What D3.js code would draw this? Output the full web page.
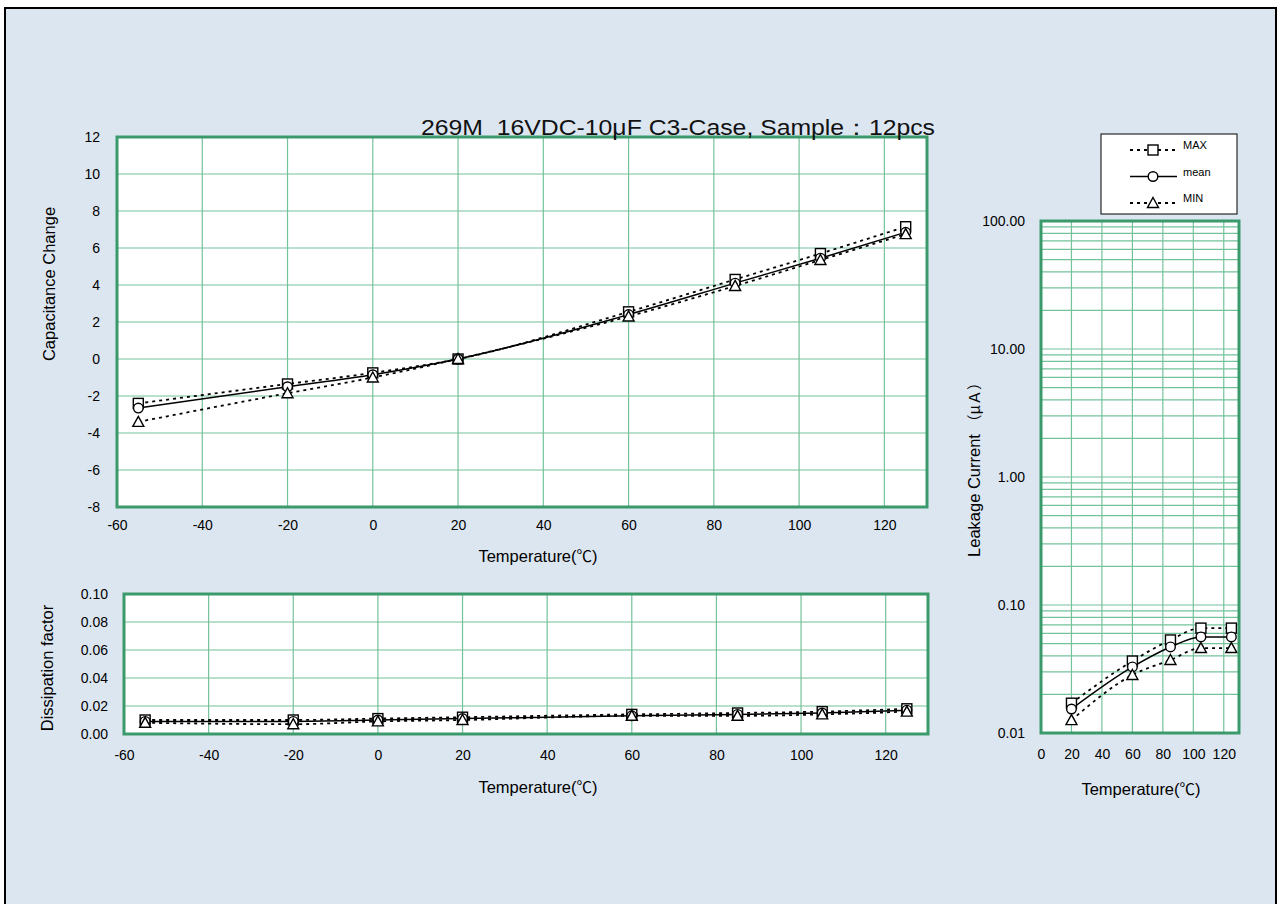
<!DOCTYPE html>
<html><head><meta charset="utf-8">
<script src="https://cdn.jsdelivr.net/npm/d3@7"></script>
<style>html,body{margin:0;padding:0;background:#fff;}svg{display:block;}</style>
</head><body>
<svg id="c" width="1279" height="904"></svg>
<script>
// ---- data ----
const tempsCap = [-55, -20, 0, 20, 60, 85, 105, 125];
const capMax  = [-2.4, -1.35, -0.75, 0.0, 2.55, 4.3, 5.7, 7.15];
const capMean = [-2.65, -1.5, -0.85, 0.0, 2.4, 4.1, 5.45, 6.85];
const capMin  = [-3.4, -1.85, -1.0, 0.0, 2.3, 3.95, 5.35, 6.75];

const dfMax  = [0.010, 0.010, 0.011, 0.012, 0.014, 0.015, 0.016, 0.018];
const dfMean = [0.009, 0.009, 0.010, 0.011, 0.013, 0.014, 0.015, 0.017];
const dfMin  = [0.008, 0.007, 0.009, 0.010, 0.013, 0.013, 0.014, 0.016];

const tempsLc = [20, 60, 85, 105, 125];
const lcMax  = [0.0171, 0.0365, 0.0533, 0.066, 0.066];
const lcMean = [0.0154, 0.0328, 0.047, 0.0563, 0.0563];
const lcMin  = [0.0126, 0.0284, 0.0372, 0.0461, 0.0461];

const capXTicks = [-60, -40, -20, 0, 20, 40, 60, 80, 100, 120];
const capYTicks = [-8, -6, -4, -2, 0, 2, 4, 6, 8, 10, 12];
const dfYTicks = [0, 0.02, 0.04, 0.06, 0.08, 0.10];
const lcXTicks = [0, 20, 40, 60, 80, 100, 120];
const lcYTicks = [0.01, 0.1, 1, 10, 100];
const legendLabels = ["MAX", "mean", "MIN"];
const titleText = "269M  16VDC-10\u03bcF C3-Case, Sample\uff1a12pcs";

// ---- styles ----
const FONT = "'Liberation Sans', Arial, sans-serif";
const CJK = "'Noto Sans CJK JP', sans-serif";
const GRID = "#74c29b";
const BORDER = "#3a9a6b";
const TICK_FS = 14;
const TITLE_FS = 16.5;

const svg = d3.select("#c");
svg.append("rect").attr("x", 0).attr("y", 0).attr("width", 1279).attr("height", 904).attr("fill", "#fff");
svg.append("rect").attr("x", 5).attr("y", 8).attr("width", 1271).attr("height", 910)
  .attr("fill", "#dce6f1").attr("stroke", "#000").attr("stroke-width", 2);

const intFmt = d => String(d);

function marker(g, type, x, y) {
  if (type === 0) {
    g.append("rect").attr("x", x - 5).attr("y", y - 5).attr("width", 10).attr("height", 10)
      .attr("fill", "#fff").attr("stroke", "#000").attr("stroke-width", 1.4);
  } else if (type === 1) {
    g.append("circle").attr("cx", x).attr("cy", y).attr("r", 4.8)
      .attr("fill", "#fff").attr("stroke", "#000").attr("stroke-width", 1.4);
  } else {
    g.append("path").attr("d", `M${x},${y - 5.5}L${x + 5.5},${y + 4.5}L${x - 5.5},${y + 4.5}Z`)
      .attr("fill", "#fff").attr("stroke", "#000").attr("stroke-width", 1.4);
  }
}

function drawSeries(g, xs, series, x, y) {
  const dashes = ["3,4", null, "3,4"];
  series.forEach((vals, i) => {
    const line = d3.line().curve(d3.curveMonotoneX).x((d, j) => x(xs[j])).y(d => y(d));
    const p = g.append("path").attr("d", line(vals)).attr("fill", "none")
      .attr("stroke", "#000").attr("stroke-width", i === 1 ? 1.5 : 1.8);
    if (dashes[i]) p.attr("stroke-dasharray", dashes[i]);
  });
  series.forEach((vals, i) => {
    vals.forEach((v, j) => marker(g, i, x(xs[j]), y(v)));
  });
}

function frame(g, x0, y0, x1, y1) {
  g.append("rect").attr("x", x0).attr("y", y0).attr("width", x1 - x0).attr("height", y1 - y0)
    .attr("fill", "#fff");
}
function border(g, x0, y0, x1, y1) {
  g.append("rect").attr("x", x0).attr("y", y0).attr("width", x1 - x0).attr("height", y1 - y0)
    .attr("fill", "none").attr("stroke", BORDER).attr("stroke-width", 3);
}
function styleAxes(list) {
  list.forEach(a => { a.select(".domain").remove(); a.selectAll("text").attr("font-family", FONT).attr("font-size", TICK_FS).attr("fill", "#000"); });
}
function tempLabel(g, xc, yb) {
  const t = g.append("text").attr("x", xc).attr("y", yb).attr("text-anchor", "middle")
    .attr("font-family", FONT).attr("font-size", TITLE_FS);
  t.append("tspan").text("Temperature(");
  t.append("tspan").attr("font-family", CJK).attr("font-size", 15.5).text("\u2103");
  t.append("tspan").text(")");
}

// ---- top chart: capacitance change ----
{
  const x = d3.scaleLinear().domain([-60, 130]).range([117, 927]);
  const y = d3.scaleLinear().domain([-8, 12]).range([507, 137]);
  const g = svg.append("g");
  frame(g, 117, 137, 927, 507);
  g.append("g").selectAll("line").data(capXTicks.slice(1)).join("line")
    .attr("x1", d => x(d)).attr("x2", d => x(d)).attr("y1", 137).attr("y2", 507)
    .attr("stroke", GRID).attr("stroke-width", 1.2);
  g.append("g").selectAll("line").data(capYTicks.slice(1, -1)).join("line")
    .attr("x1", 117).attr("x2", 927).attr("y1", d => y(d)).attr("y2", d => y(d))
    .attr("stroke", GRID).attr("stroke-width", 1.2);
  drawSeries(g, tempsCap, [capMax, capMean, capMin], x, y);
  border(g, 117, 137, 927, 507);
  const ya = d3.axisLeft(y).tickValues(capYTicks).tickSize(0).tickPadding(17).tickFormat(intFmt);
  const ga = g.append("g").attr("transform", "translate(117,0)").call(ya);
  const xa = d3.axisBottom(x).tickValues(capXTicks).tickSize(0).tickPadding(13).tickFormat(intFmt);
  const gx = g.append("g").attr("transform", "translate(0,507)").call(xa);
  styleAxes([ga, gx]);
  tempLabel(g, 538, 562);
  g.append("text").attr("transform", "translate(55,284) rotate(-90)").attr("text-anchor", "middle")
    .attr("font-family", FONT).attr("font-size", TITLE_FS).text("Capacitance Change");
  g.append("text").attr("x", 421).attr("y", 135).attr("xml:space", "preserve").style("white-space", "pre")
    .attr("textLength", 514).attr("lengthAdjust", "spacingAndGlyphs")
    .attr("font-family", FONT).attr("font-size", 22).attr("fill", "#111").text(titleText);
}

// ---- bottom chart: dissipation factor ----
{
  const x = d3.scaleLinear().domain([-60, 130]).range([124, 928]);
  const y = d3.scaleLinear().domain([0, 0.1]).range([734, 594]);
  const g = svg.append("g");
  frame(g, 124, 594, 928, 734);
  g.append("g").selectAll("line").data(capXTicks.slice(1)).join("line")
    .attr("x1", d => x(d)).attr("x2", d => x(d)).attr("y1", 594).attr("y2", 734)
    .attr("stroke", GRID).attr("stroke-width", 1.2);
  g.append("g").selectAll("line").data(dfYTicks.slice(1, -1)).join("line")
    .attr("x1", 124).attr("x2", 928).attr("y1", d => y(d)).attr("y2", d => y(d))
    .attr("stroke", GRID).attr("stroke-width", 1.2);
  drawSeries(g, tempsCap, [dfMax, dfMean, dfMin], x, y);
  border(g, 124, 594, 928, 734);
  const ya = d3.axisLeft(y).tickValues(dfYTicks).tickSize(0).tickPadding(16).tickFormat(d3.format(".2f"));
  const ga = g.append("g").attr("transform", "translate(124,0)").call(ya);
  const xa = d3.axisBottom(x).tickValues(capXTicks).tickSize(0).tickPadding(16).tickFormat(intFmt);
  const gx = g.append("g").attr("transform", "translate(0,734)").call(xa);
  styleAxes([ga, gx]);
  tempLabel(g, 538, 793);
  g.append("text").attr("transform", "translate(53,668) rotate(-90)").attr("text-anchor", "middle")
    .attr("font-family", FONT).attr("font-size", TITLE_FS).text("Dissipation factor");
}

// ---- right chart: leakage current ----
{
  const x = d3.scaleLinear().domain([0, 130]).range([1041, 1239]);
  const y = d3.scaleLog().domain([0.01, 100]).range([733, 221]);
  const g = svg.append("g");
  frame(g, 1041, 221, 1239, 733);
  g.append("g").selectAll("line").data(lcXTicks.slice(1)).join("line")
    .attr("x1", d => x(d)).attr("x2", d => x(d)).attr("y1", 221).attr("y2", 733)
    .attr("stroke", GRID).attr("stroke-width", 1.2);
  const minor = [];
  lcYTicks.slice(0, -1).forEach(dec => { for (let k = 1; k <= 9; k++) if (!(k === 1 && dec === 0.01)) minor.push(dec * k); });
  g.append("g").selectAll("line").data(minor).join("line")
    .attr("x1", 1041).attr("x2", 1239).attr("y1", d => y(d)).attr("y2", d => y(d))
    .attr("stroke", GRID).attr("stroke-width", 1.2);
  drawSeries(g, tempsLc, [lcMax, lcMean, lcMin], x, y);
  border(g, 1041, 221, 1239, 733);
  const ya = d3.axisLeft(y).tickValues(lcYTicks).tickSize(0).tickPadding(16).tickFormat(d3.format(".2f"));
  const ga = g.append("g").attr("transform", "translate(1041,0)").call(ya);
  const xa = d3.axisBottom(x).tickValues(lcXTicks).tickSize(0).tickPadding(16).tickFormat(intFmt);
  const gx = g.append("g").attr("transform", "translate(0,733)").call(xa);
  styleAxes([ga, gx]);
  tempLabel(g, 1141, 795);
  const lt = g.append("text").attr("transform", "translate(980,466) rotate(-90)").attr("text-anchor", "middle")
    .attr("font-family", FONT).attr("font-size", TITLE_FS).attr("xml:space", "preserve").style("white-space", "pre");
  lt.append("tspan").text("Leakage Current ");
  lt.append("tspan").attr("font-family", CJK).attr("font-size", 15).text("\uff08\u03bc\uff21\uff09");

  // legend
  const lg = svg.append("g");
  lg.append("rect").attr("x", 1101).attr("y", 134).attr("width", 136).attr("height", 80)
    .attr("fill", "#fff").attr("stroke", "#000").attr("stroke-width", 1);
  legendLabels.forEach((lab, i) => {
    const yy = 150 + i * 26.5;
    const l = lg.append("line").attr("x1", 1130).attr("x2", 1177).attr("y1", yy).attr("y2", yy)
      .attr("stroke", "#000").attr("stroke-width", i === 1 ? 1.5 : 1.8);
    if (i !== 1) l.attr("stroke-dasharray", "3,4");
    marker(lg, i, 1153, yy);
    lg.append("text").attr("x", 1183).attr("y", yy - 1).attr("font-family", FONT).attr("font-size", 11).text(lab);
  });
}
</script>
</body></html>
